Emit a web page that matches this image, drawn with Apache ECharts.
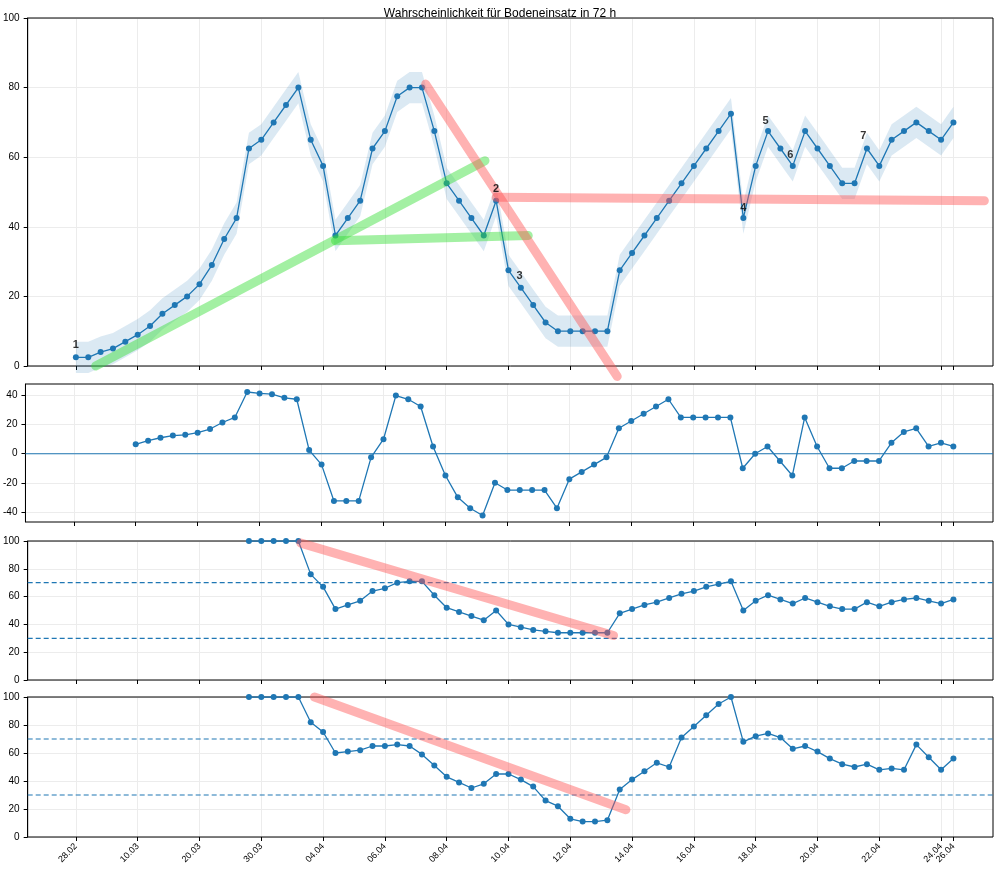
<!DOCTYPE html>
<html><head><meta charset="utf-8">
<script src="https://cdn.jsdelivr.net/npm/echarts@6/dist/echarts.min.js"></script>
<style>html,body{margin:0;padding:0;background:#fff}#chart{width:1000px;height:873px}</style>
</head><body><div id="chart"></div>
<script>
var tickIdx = [0,5,10,15,20,25,30,35,40,45,50,55,60,65,70,71];
var tickLabels = ['28.02','10.03','20.03','30.03','04.04','06.04','08.04','10.04','12.04','14.04','16.04','18.04','20.04','22.04','24.04','26.04'];

var prob = [2.5,2.5,4,5,7,9,11.5,15,17.5,20,23.5,29,36.5,42.5,62.5,65,70,75,80,65,57.5,37.5,42.5,47.5,62.5,67.5,77.5,80,80,67.5,52.5,47.5,42.5,37.5,47.5,27.5,22.5,17.5,12.5,10,10,10,10,10,27.5,32.5,37.5,42.5,47.5,52.5,57.5,62.5,67.5,72.5,42.5,57.5,67.5,62.5,57.5,67.5,62.5,57.5,52.5,52.5,62.5,57.5,65,67.5,70,67.5,65,70];
var bandHalf = 4.5;
var change = [null,null,null,null,null,6.5,9,11,12.5,13,14.5,17,21.5,25,42.5,41.5,41,38.5,37.5,2.5,-7.5,-32.5,-32.5,-32.5,-2.5,10,40,37.5,32.5,5,-15,-30,-37.5,-42.5,-20,-25,-25,-25,-25,-37.5,-17.5,-12.5,-7.5,-2.5,17.5,22.5,27.5,32.5,37.5,25,25,25,25,25,-10,0,5,-5,-15,25,5,-10,-10,-5,-5,-5,7.5,15,17.5,5,7.5,5];
var ind3 = [null,null,null,null,null,null,null,null,null,null,null,null,null,null,100,100,100,100,100,76,67,51,54,57,64,66,70,71,71,61,52,49,46,43,50,40,38,36,35,34,34,34,34,34,48,51,54,56,59,62,64,67,69,71,50,57,61,58,55,59,56,53,51,51,56,53,56,58,59,57,55,58];
var ind4 = [null,null,null,null,null,null,null,null,null,null,null,null,null,null,100,100,100,100,100,82,75,60,61,62,65,65,66,65,59,51,43,39,35,38,45,45,41,36,26,22,13,11,11,12,34,41,47,53,50,71,79,87,95,100,68,72,74,71,63,65,61,56,52,50,52,48,49,48,66,57,48,56];

var greenLines = [[[1.6,0],[33.1,59]],[[21,36],[36.6,37.5]]];
var redTop = [[[28.3,81],[43.8,-3]],[[34,48.5],[73.5,47.5]]];
var red3 = [[18.2,98.5],[43.5,32]];
var red4 = [[19.3,100],[44.5,19.5]];
var marks = [['1',0,6],['2',34,51],['3',35.9,26],['4',54,45.5],['5',55.8,70.5],['6',57.8,60.5],['7',63.7,66]];

var blue = '#1f77b4';
function pts(arr){ return arr.map(function(v,i){ return v==null?null:[i,v]; }).filter(function(p){return p;}); }

var grids = [
  {left:25,right:7,top:18,height:348},
  {left:25,right:7,top:384,height:138},
  {left:25,right:7,top:541,height:139},
  {left:25,right:7,top:697,height:140}
];
function xAx(k,vals,showLabel){
  return {type:'value',gridIndex:k,position:'bottom',min:-3.9,max:74.2,
    axisLine:{show:false,onZero:false},
    axisTick:{show:true,customValues:vals,length:4,lineStyle:{color:'#000'}},
    axisLabel:{show:showLabel,customValues:vals,rotate:45,fontSize:9,color:'#000',hideOverlap:false,
      formatter:function(v){ var i=tickIdx.indexOf(v); return i>=0?tickLabels[i]:''; }},
    splitLine:{show:true,customValues:vals,lineStyle:{color:'#ececec'}}};
}
var mainTicks = tickIdx.slice(0,15);
var xAxes = [xAx(0,tickIdx,false),xAx(1,tickIdx,false),xAx(2,tickIdx,false),xAx(3,mainTicks,true),xAx(3,[71],true)];
xAxes[4].splitLine.customValues=[71];

function yAx(k,min,max,vals){
  return {type:'value',gridIndex:k,min:min,max:max,
    axisLine:{show:true,onZero:false,lineStyle:{color:'#000'}},
    axisTick:{show:true,length:4,customValues:vals},
    axisLabel:{fontSize:10,color:'#000',customValues:vals},
    splitLine:{show:true,customValues:vals,lineStyle:{color:'#ececec'}}};
}
var v100 = [0,20,40,60,80,100];
var yAxes = [yAx(0,0,100,v100),yAx(1,-47,48,[-40,-20,0,20,40]),yAx(2,0,100,v100),yAx(3,0,100,v100)];

function dotLine(k,arr){
  return {type:'line',xAxisIndex:k,yAxisIndex:k,data:pts(arr),symbol:'circle',symbolSize:6,
    itemStyle:{color:blue},lineStyle:{color:blue,width:1.3},z:5};
}
function thick(k,d,c){
  return {type:'line',xAxisIndex:k,yAxisIndex:k,data:d,symbol:'none',clip:false,
    lineStyle:{color:c,width:9,opacity:0.45,cap:'round'},z:6,silent:true};
}
function hline(k,v,dash){
  return {type:'line',xAxisIndex:k,yAxisIndex:k,data:[[-3.9,v],[74.2,v]],symbol:'none',
    lineStyle:{color:blue,width:1.2,type:dash?[5,3]:'solid'},z:3};
}
function frame(k){
  return {type:'line',xAxisIndex:k,yAxisIndex:k,data:[],markArea:{silent:true,itemStyle:{color:'transparent',borderColor:'#000',borderWidth:1},data:[[{coord:[-3.9,yAxes[k].min]},{coord:[74.2,yAxes[k].max]}]]}};
}

var series = [];
series.push({type:'custom',xAxisIndex:0,yAxisIndex:0,data:[0],z:2,silent:true,
  renderItem:function(params,api){
    var up=[],lo=[];
    prob.forEach(function(v,i){ up.push(api.coord([i,v+bandHalf])); lo.unshift(api.coord([i,v-bandHalf])); });
    return {type:'polygon',shape:{points:up.concat(lo)},style:{fill:'rgba(31,119,180,0.16)'}};
  }});
series.push(dotLine(0,prob));
greenLines.forEach(function(d){ series.push(thick(0,d,'#33dd33')); });
redTop.forEach(function(d){ series.push(thick(0,d,'#ff5555')); });
series.push({type:'scatter',xAxisIndex:0,yAxisIndex:0,symbolSize:0,z:7,
  data:marks.map(function(m){return {value:[m[1],m[2]],name:m[0]};}),
  label:{show:true,formatter:'{b}',fontWeight:'bold',fontSize:11,color:'#000',position:'inside'}});
series.push(hline(1,0,false));
series.push(dotLine(1,change));
series.push(hline(2,30,true),hline(2,70,true));
series.push(dotLine(2,ind3));
series.push(thick(2,red3,'#ff5555'));
series.push(hline(3,30,true),hline(3,70,true));
series.push(dotLine(3,ind4));
series.push(thick(3,red4,'#ff5555'));
for (var k=0;k<4;k++) series.push(frame(k));

var chart = echarts.init(document.getElementById('chart'));
chart.setOption({
  animation:false,
  title:{text:'Wahrscheinlichkeit für Bodeneinsatz in 72 h',left:'center',top:3,textStyle:{fontSize:12,fontWeight:'normal',color:'#000'}},
  grid:grids,xAxis:xAxes,yAxis:yAxes,series:series
});
</script></body></html>
